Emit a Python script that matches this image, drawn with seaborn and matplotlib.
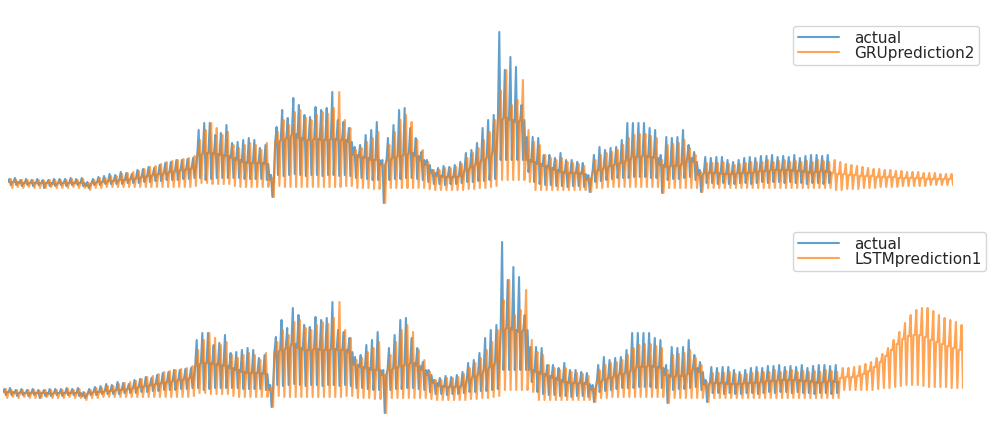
import numpy as np
import pandas as pd
import matplotlib
matplotlib.use("Agg")
import matplotlib.pyplot as plt
import seaborn as sns

# one entry per weekly cycle: baseline level, spike high, spike low
level = [18, 18, 17, 17, 17, 17, 17, 17, 16, 17,
         17, 17, 17, 17, 14, 17, 18, 18, 19, 19,
         20, 20, 21, 22, 23, 24, 25, 26, 27, 28,
         29, 30, 31, 32,
         45, 47, 47, 46, 45, 44,
         42, 40, 38, 37, 37, 37, 36,
         20,
         58, 60, 62, 66, 62, 60, 60, 61, 60, 60, 61, 60, 60, 58,
         45, 43, 42, 40, 40, 35,
         40, 42, 44, 45, 47, 44, 40, 35,
         27, 24, 23, 23, 23, 24,
         30, 33, 36, 40, 43, 48,
         80, 82, 80, 78, 80, 40,
         38, 36, 34, 32, 30, 28, 27, 27, 27, 26, 20,
         28, 30, 32, 34, 36, 37,
         40, 43, 43, 44, 43, 42, 35,
         33, 34, 34, 36, 42, 38,
         25,
         27, 27, 27, 26, 26, 26, 27, 27, 27, 28, 29, 29, 30, 30, 30, 30,
         29, 29, 28, 27, 28, 29, 28]

actual_hi = [21, 22, 20, 21, 20, 21, 20, 20, 21, 21,
             21, 22, 21, 22, 18, 21, 23, 24, 26, 25,
             28, 27, 26, 30, 31, 33, 32, 35, 37, 38,
             40, 40, 41, 42,
             70, 77, 77, 65, 67, 75,
             57, 58, 60, 62, 60, 52, 55,
             25,
             73, 90, 82, 102, 95, 85, 83, 93, 90, 92, 108, 80, 78, 72,
             53, 55, 65, 70, 78, 40,
             62, 75, 90, 92, 72, 62, 48, 40,
             30, 32, 34, 33, 35, 38,
             47, 50, 57, 72, 80, 85,
             168, 130, 143, 133, 95, 63,
             63, 62, 45, 45, 42, 47, 40, 40, 38, 37, 25,
             45, 53, 50, 52, 53, 60,
             77, 77, 77, 77, 72, 70, 45,
             63, 62, 63, 70, 55, 48,
             30,
             43, 42, 43, 43, 40, 38, 40, 42, 43, 42, 44, 44, 45, 43, 44, 43,
             45, 42, 44, 45, 45, 44, 45]

actual_lo = [15, 15, 14, 15, 14, 15, 12, 14, 14, 15,
             14, 15, 15, 14, 12, 15, 15, 16, 16, 16,
             16, 17, 17, 17, 18, 18, 19, 19, 20, 20,
             20, 21, 21, 22,
             22, 20, 21, 22, 22, 22,
             22, 22, 21, 21, 21, 21, 20,
             3,
             25, 24, 25, 26, 25, 24, 25, 25, 24, 25, 25, 24, 25, 24,
             22, 22, 21, 20, 20, -3,
             20, 21, 21, 22, 22, 21, 20, 18,
             16, 16, 15, 16, 16, 17,
             18, 18, 19, 19, 20, 21,
             40, 40, 40, 40, 40, 28,
             18, 16, 15, 15, 14, 14, 13, 14, 14, 13, 8,
             18, 19, 20, 21, 22, 22,
             22, 23, 23, 23, 22, 22, 7,
             20, 21, 21, 22, 23, 20,
             8,
             17, 17, 16, 17, 16, 16, 17, 17, 16, 17, 18, 17, 18, 18, 17, 18,
             17, 17, 16, 17, 17, 16, 17]

# predictions (both models look the same over the test span)
pred_hi = [21, 20, 20, 20, 20, 20, 19, 20, 20, 20,
           20, 21, 20, 21, 17, 20, 22, 22, 24, 24,
           26, 27, 28, 29, 31, 33, 34, 36, 38, 39,
           40, 41, 42, 44,
           60, 70, 77, 72, 65, 68,
           55, 52, 55, 57, 55, 50, 57,
           22,
           68, 80, 75, 88, 90, 82, 80, 85, 88, 86, 92, 108, 80, 72,
           50, 52, 58, 62, 68, 35,
           55, 68, 80, 85, 78, 60, 50, 38,
           30, 30, 32, 32, 33, 36,
           42, 47, 52, 60, 68, 80,
           110, 130, 95, 100, 120, 70,
           58, 55, 45, 42, 40, 42, 38, 37, 36, 34, 22,
           40, 45, 47, 48, 50, 55,
           62, 65, 66, 66, 64, 62, 40,
           55, 56, 57, 60, 52, 45,
           28,
           37, 37, 37, 38, 36, 35, 36, 37, 38, 38, 38, 40, 38, 39, 40, 38,
           39, 38, 39, 38, 40, 39, 38]

pred_lo = [12, 13, 12, 13, 12, 12, 12, 13, 12, 12,
           12, 13, 12, 12, 10, 12, 12, 13, 13, 13,
           13, 13, 13, 13, 13, 13, 13, 13, 13, 13,
           13, 13, 13, 14,
           17, 17, 16, 16, 16, 16,
           14, 13, 13, 13, 13, 13, 13,
           3,
           14, 13, 13, 13, 13, 13, 13, 13, 13, 13, 13, 13, 14, 14,
           12, 12, 12, 11, 11, -3,
           12, 12, 12, 12, 12, 12, 12, 11,
           10, 10, 10, 10, 10, 10,
           11, 11, 12, 12, 13, 14,
           20, 20, 20, 20, 20, 18,
           10, 10, 10, 10, 10, 10, 10, 10, 10, 10, 8,
           12, 12, 13, 13, 13, 13,
           13, 13, 13, 13, 13, 13, 7,
           12, 12, 12, 12, 12, 12,
           8,
           12, 12, 12, 12, 12, 12, 12, 12, 12, 12, 12, 12, 12, 12, 12, 12,
           12, 12, 12, 12, 12, 12, 12]

# forecast beyond the actual data
gru_tail_level = [27, 26, 26, 25, 25, 24, 24, 24, 23, 23, 23,
                  23, 22, 22, 22, 22, 22, 21, 21, 21, 21, 21]
gru_tail_hi = [40, 38, 36, 35, 34, 33, 32, 31, 31, 30, 30,
               29, 29, 28, 28, 28, 27, 27, 27, 26, 26, 26]
gru_tail_lo = [10, 10, 11, 11, 11, 12, 12, 12, 13, 13, 13,
               13, 14, 14, 14, 14, 14, 15, 15, 15, 15, 15]

lstm_tail_level = [32, 33, 33, 34, 36, 39, 43, 48, 54, 60, 66,
                   71, 74, 75, 75, 73, 70, 68, 66, 64, 62, 60]
lstm_tail_hi = [42, 42, 43, 44, 46, 48, 52, 56, 62, 70, 78,
                87, 95, 100, 102, 102, 99, 95, 92, 90, 88, 85]
lstm_tail_lo = [20, 20, 20, 20, 20, 20, 21, 22, 22, 23, 24,
                25, 25, 25, 24, 23, 23, 23, 23, 22, 22, 22]


def actual_series(lv, hi, lo):
    return np.column_stack([lv, hi, lo, lv]).ravel()


def pred_series(lv, hi, lo):
    # prediction lags the actual spike by one step
    return np.column_stack([lv, lv, hi, lo]).ravel()


actual = actual_series(level, actual_hi, actual_lo)
gru = pred_series(level + gru_tail_level, pred_hi + gru_tail_hi, pred_lo + gru_tail_lo)
lstm = pred_series(level + lstm_tail_level, pred_hi + lstm_tail_hi, pred_lo + lstm_tail_lo)


def long_df(pred, name):
    a = pd.DataFrame({"t": np.arange(len(actual)), "value": actual, "series": "actual"})
    p = pd.DataFrame({"t": np.arange(len(pred)), "value": pred, "series": name})
    return pd.concat([a, p], ignore_index=True)


sns.set_theme(style="white")
plt.rcParams["font.family"] = ["DejaVu Sans"]

fig = plt.figure(figsize=(9.95, 4.3), dpi=100)
ax1 = fig.add_axes([8 / 995, 220 / 430, 945 / 995, 190 / 430])
ax2 = fig.add_axes([3 / 995, 10 / 430, 960 / 995, 195 / 430])

panels = [
    (ax1, long_df(gru, "GRUprediction2"), (-10, 180), (793 / 995, 1 - 26 / 430)),
    (ax2, long_df(lstm, "LSTMprediction1"), (-10, 185), (793 / 995, 1 - 232 / 430)),
]

for ax, df, ylim, anchor in panels:
    sns.lineplot(data=df, x="t", y="value", hue="series",
                 palette=["tab:blue", "tab:orange"], linewidth=1.5, alpha=0.7,
                 ax=ax)
    ax.set_xlim(0, len(gru) - 1)
    ax.set_ylim(*ylim)
    ax.set_axis_off()
    handles, labels = ax.get_legend_handles_labels()
    ax.legend(handles, labels, loc="upper left", bbox_to_anchor=anchor,
              bbox_transform=fig.transFigure, fontsize=11,
              handlelength=2.7, handletextpad=1.0, labelspacing=0.0,
              borderpad=0.3, borderaxespad=0, frameon=True)

fig.savefig("out.png", dpi=100)
